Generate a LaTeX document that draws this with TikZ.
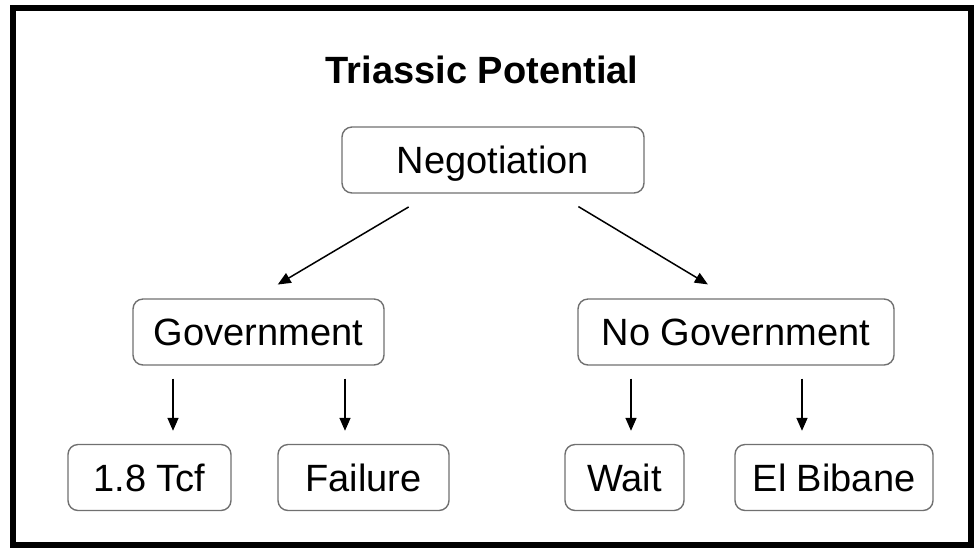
\documentclass[tikz,border=0pt]{standalone}
\usepackage{fontspec}
\setmainfont{Liberation Sans}
\usetikzlibrary{arrows.meta}

\definecolor{boxline}{HTML}{707070}
\tikzstyle{box}=[draw=boxline,line width=0.7pt,rounded corners=5pt,minimum height=33pt,inner sep=0pt,font=\fontsize{19}{22}\selectfont,text height=13.6pt,text depth=0pt]
\tikzstyle{title}=[font=\fontsize{19}{22}\selectfont\bfseries,inner sep=0pt]
\tikzstyle{arrow}=[draw,line width=0.75pt,-{Triangle[length=6.5pt,width=5.5pt]}]
\newcommand{\tpunit}{0.5pt}

\begin{document}
\begin{tikzpicture}[x=\tpunit, y=-\tpunit]
    \useasboundingbox (0,0) rectangle (974,548);
    % outer frame
    \draw[line width=3pt] (13,8) rectangle (971,545);
    \node[title, anchor=base] (title) at (482,83) {Triassic Potential};
    % First we draw the boxes
    \foreach \pos/\name/\label/\w in {{(493,160)/neg/Negotiation/151pt}, {(258.5,332)/gov/Government/125.5pt},
        {(736,332)/nogov/No Government/158pt}, {(149.5,477.5)/tcf/1.8 Tcf/81.5pt},
        {(363.5,477.5)/fail/Failure/85.5pt}, {(624.5,477.5)/wait/Wait/59.5pt}, {(834,477.5)/bib/El Bibane/99pt}}
        \node[box, minimum width=\w] (\name) at \pos {\label};
    % Then the arrows
    \path[arrow, shorten <=13pt, shorten >=13.5pt] ([xshift=-31pt]neg.south) -- ([xshift=-2pt]gov.north);
    \path[arrow, shorten <=12.5pt, shorten >=13.5pt] ([xshift=32pt]neg.south) -- ([xshift=-2.5pt]nogov.north);
    \foreach \name/\x in {tcf/173, fail/345, wait/631, bib/802}
        \coordinate (\name x) at (\x,0);
    \foreach \source/ \dest in {gov/tcf, gov/fail, nogov/wait, nogov/bib}
        \path[arrow, shorten <=6.5pt, shorten >=6.5pt] (\source.south -| \dest x) -- (\dest.north -| \dest x);
\end{tikzpicture}
\end{document}
